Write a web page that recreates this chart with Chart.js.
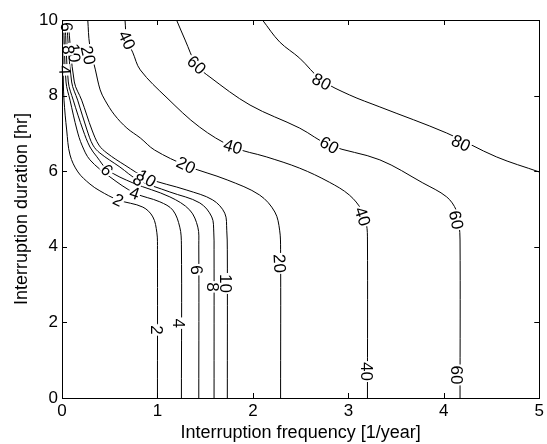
<!DOCTYPE html>
<html>
<head>
<meta charset="utf-8">
<script src="https://cdn.jsdelivr.net/npm/chart.js@4.4.0/dist/chart.umd.min.js"></script>
<style>
    html, body { margin: 0; padding: 0; background: #fff; }
    #wrap { width: 547px; height: 444px; }
</style>
</head>
<body>
<div id="wrap"><canvas id="contourChart" width="547" height="444"></canvas></div>
<script>
// contour levels and their traced paths (frequency [1/year], duration [hr])
const levels = [2, 4, 6, 8, 10, 20, 40, 60, 80];

const freq2 = [0.005, 0.014, 0.021, 0.049, 0.084, 0.167, 0.293, 0.397, 0.586, 0.847, 0.952, 0.994, 1.0, 1.0];
const dur2  = [10, 8.36, 7.88, 7.09, 6.43, 5.98, 5.66, 5.48, 5.24, 5.05, 4.79, 4.37, 3.92, 0];

const freq4 = [0.016, 0.042, 0.084, 0.157, 0.209, 0.293, 0.502, 0.763, 1.025, 1.161, 1.234, 1.251, 1.251];
const dur4  = [10, 8.36, 7.88, 7.09, 6.69, 6.30, 5.85, 5.42, 5.19, 4.97, 4.52, 4.05, 0];

const freq6 = [0.031, 0.066, 0.118, 0.220, 0.293, 0.366, 0.481, 0.743, 1.130, 1.339, 1.423, 1.433, 1.433];
const dur6  = [10, 8.36, 7.88, 7.09, 6.64, 6.38, 6.03, 5.69, 5.32, 4.97, 4.52, 4.05, 0];

const freq8 = [0.047, 0.101, 0.164, 0.262, 0.324, 0.397, 0.607, 0.795, 1.130, 1.444, 1.569, 1.590, 1.593, 1.593];
const dur8  = [10, 8.36, 7.88, 7.09, 6.69, 6.48, 6.11, 5.77, 5.45, 5.16, 4.79, 4.39, 3.92, 0];

const freq10 = [0.063, 0.129, 0.206, 0.314, 0.387, 0.471, 0.659, 0.889, 1.308, 1.579, 1.705, 1.726, 1.732, 1.732];
const dur10  = [10, 8.36, 7.88, 7.09, 6.69, 6.48, 6.16, 5.82, 5.50, 5.24, 4.89, 4.44, 3.92, 0];

const freq20 = [0.27, 0.29, 0.35, 0.40, 0.45, 0.55, 0.68, 0.82, 0.97, 1.31, 1.73, 2.07, 2.23, 2.28, 2.29, 2.29];
const dur20  = [10, 9.34, 8.68, 8.15, 7.88, 7.49, 7.14, 6.88, 6.56, 6.14, 5.77, 5.37, 4.92, 4.44, 3.92, 0];

const freq40 = [0.66, 0.68, 0.74, 0.82, 1.10, 1.44, 1.79, 2.14, 2.49, 2.80, 3.01, 3.14, 3.19, 3.20, 3.20];
const dur40  = [10, 9.47, 9.15, 8.68, 7.94, 7.17, 6.64, 6.38, 6.08, 5.71, 5.37, 4.97, 4.58, 4.18, 0];

const freq60 = [1.20, 1.29, 1.41, 1.55, 1.97, 2.49, 2.80, 3.33, 3.78, 4.03, 4.13, 4.16, 4.17, 4.17];
const dur60  = [10, 9.47, 8.81, 8.49, 7.75, 7.14, 6.69, 6.30, 5.69, 5.32, 4.97, 4.58, 4.18, 0];

const freq80 = [2.10, 2.28, 2.49, 2.72, 3.01, 3.33, 4.03, 4.55, 5.0];
const dur80  = [10, 9.42, 8.99, 8.41, 8.02, 7.70, 7.01, 6.38, 5.98];

// inline contour labels
const labelLevel = [80, 80, 60, 60, 60, 60, 40, 40, 40, 40, 20, 20, 20, 10, 10, 10, 8, 8, 8, 6, 6, 6, 4, 4, 4, 2, 2];
const labelFreq  = [2.72, 4.18, 1.41, 2.80, 4.13, 4.13, 0.68, 1.79, 3.15, 3.19, 0.275, 1.30, 2.28, 0.126, 0.886, 1.72, 0.066, 0.80, 1.58, 0.049, 0.47, 1.41, 0.031, 0.76, 1.22, 0.59, 0.99];
const labelDur   = [8.37, 6.74, 8.81, 6.69, 4.71, 0.61, 9.47, 6.65, 4.80, 0.70, 9.07, 6.16, 3.56, 9.13, 5.81, 3.03, 9.21, 5.77, 2.94, 9.82, 6.03, 3.39, 8.68, 5.42, 1.98, 5.24, 1.80];

const xTicks = [0, 1, 2, 3, 4, 5];
const yTicks = [0, 2, 4, 6, 8, 10];

const FONT = "'Liberation Sans', Arial, Helvetica, sans-serif";

const paths = {
    2: [freq2, dur2], 4: [freq4, dur4], 6: [freq6, dur6], 8: [freq8, dur8], 10: [freq10, dur10],
    20: [freq20, dur20], 40: [freq40, dur40], 60: [freq60, dur60], 80: [freq80, dur80]
};

const datasets = levels.map(function(lv) {
    const xs = paths[lv][0], ys = paths[lv][1];
    return {
        label: String(lv),
        data: xs.map(function(x, i) { return { x: x, y: ys[i] }; }),
        borderColor: '#000',
        borderWidth: 1,
        pointRadius: 0,
        tension: 0.35,
        fill: false
    };
});

// draws the labels along the lines, with a white gap behind each
const contourLabels = {
    id: 'contourLabels',
    afterDatasetsDraw(chart) {
        const ctx = chart.ctx;
        const xs = chart.scales.x, ys = chart.scales.y;
        ctx.save();
        ctx.font = '17px ' + FONT;
        ctx.textAlign = 'center';
        ctx.textBaseline = 'middle';
        labelLevel.forEach(function(lv, i) {
            const px = xs.getPixelForValue(labelFreq[i]);
            const py = ys.getPixelForValue(labelDur[i]);
            // find the nearest segment of that contour to get the angle
            const pts = chart.getDatasetMeta(levels.indexOf(lv)).data;
            let best = Infinity, ang = 0;
            for (let k = 0; k < pts.length - 1; k++) {
                const a = pts[k], b = pts[k + 1];
                const mx = (a.x + b.x) / 2, my = (a.y + b.y) / 2;
                const d = (mx - px) * (mx - px) + (my - py) * (my - py);
                if (d < best) { best = d; ang = Math.atan2(b.y - a.y, b.x - a.x); }
            }
            if (ang > Math.PI / 2) ang -= Math.PI;
            if (ang <= -Math.PI / 2) ang += Math.PI;
            const txt = String(lv);
            const w = ctx.measureText(txt).width;
            ctx.save();
            ctx.translate(px, py);
            ctx.rotate(ang);
            ctx.fillStyle = '#fff';
            ctx.fillRect(-w / 2 - 1, -5, w + 2, 10);
            ctx.fillStyle = '#000';
            ctx.fillText(txt, 0, 1);
            ctx.restore();
        });
        ctx.restore();
    }
};

// box around the plot with inward tick marks on all four sides
const frameBox = {
    id: 'frameBox',
    afterDraw(chart) {
        const ctx = chart.ctx;
        const a = chart.chartArea;
        const xs = chart.scales.x, ys = chart.scales.y;
        ctx.save();
        ctx.strokeStyle = '#000';
        ctx.lineWidth = 1;
        ctx.strokeRect(Math.round(a.left) + 0.5, Math.round(a.top) + 0.5,
            Math.round(a.right - a.left), Math.round(a.bottom - a.top));
        ctx.beginPath();
        xTicks.forEach(function(t) {
            const px = Math.round(xs.getPixelForValue(t)) + 0.5;
            ctx.moveTo(px, a.bottom); ctx.lineTo(px, a.bottom - 5);
            ctx.moveTo(px, a.top); ctx.lineTo(px, a.top + 5);
        });
        yTicks.forEach(function(t) {
            const py = Math.round(ys.getPixelForValue(t)) + 0.5;
            ctx.moveTo(a.left, py); ctx.lineTo(a.left + 5, py);
            ctx.moveTo(a.right, py); ctx.lineTo(a.right - 5, py);
        });
        ctx.stroke();
        ctx.restore();
    }
};

new Chart(document.getElementById('contourChart'), {
    type: 'line',
    data: { datasets: datasets },
    plugins: [contourLabels, frameBox],
    options: {
        responsive: false,
        animation: false,
        devicePixelRatio: 1,
        layout: { padding: { top: 20, right: 7, left: 0, bottom: 0 } },
        plugins: {
            legend: { display: false },
            tooltip: { enabled: false }
        },
        scales: {
            x: {
                type: 'linear',
                min: 0,
                max: 5,
                afterFit: function(scale) { scale.height = 46; },
                afterBuildTicks: function(scale) { scale.ticks = xTicks.map(function(v) { return { value: v }; }); },
                grid: { display: false, drawTicks: false },
                border: { display: false },
                ticks: { color: '#000', padding: 3, font: { family: FONT, size: 17 } },
                title: {
                    display: true,
                    text: 'Interruption frequency [1/year]',
                    color: '#000',
                    font: { family: FONT, size: 18 },
                    padding: { top: 0, bottom: 0 }
                }
            },
            y: {
                type: 'linear',
                min: 0,
                max: 10,
                afterFit: function(scale) { scale.width = 62; },
                afterBuildTicks: function(scale) { scale.ticks = yTicks.map(function(v) { return { value: v }; }); },
                grid: { display: false, drawTicks: false },
                border: { display: false },
                ticks: { color: '#000', padding: 4, font: { family: FONT, size: 17 } },
                title: {
                    display: true,
                    text: 'Interruption duration [hr]',
                    color: '#000',
                    font: { family: FONT, size: 18 },
                    padding: { top: 11, bottom: 0 }
                }
            }
        }
    }
});
</script>
</body>
</html>
